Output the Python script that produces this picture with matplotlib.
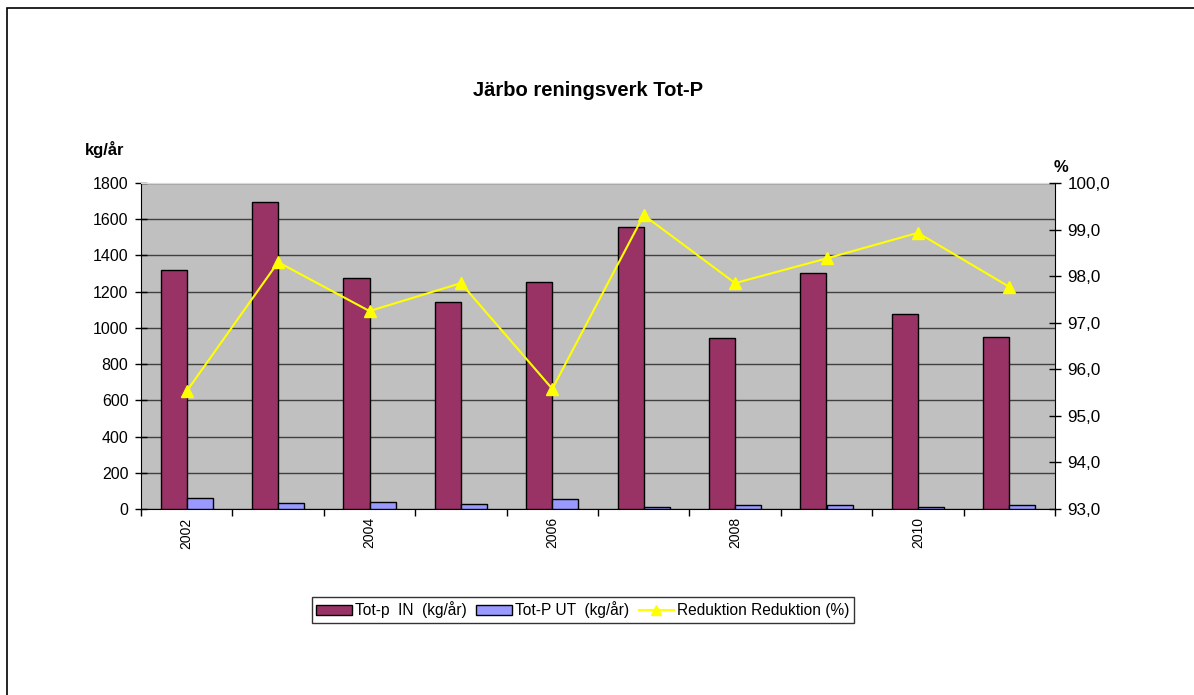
import numpy as np
import matplotlib
matplotlib.use('Agg')
import matplotlib.pyplot as plt
from matplotlib.lines import Line2D
from matplotlib.patches import Patch, Rectangle
from matplotlib.ticker import FuncFormatter

plt.rcParams['font.family'] = ['Liberation Sans', 'DejaVu Sans']

# data
years = [2002, 2003, 2004, 2005, 2006, 2007, 2008, 2009, 2010, 2011]
tot_p_in = [1320, 1696, 1276, 1142, 1254, 1558, 945, 1302, 1079, 948]
tot_p_ut = [62, 31, 38, 25, 57, 10, 21, 21, 9, 21]
reduktion = [95.53, 98.30, 97.25, 97.85, 95.58, 99.31, 97.85, 98.38, 98.93, 97.77]

W, H = 1194, 695
fig = plt.figure(figsize=(W / 100, H / 100), dpi=100)
ax = fig.add_axes([141 / W, 1 - 509 / H, (1055 - 141) / W, (509 - 183) / H])

# outer chart frame (only top and left visible in the reference)
fig.patches.append(Rectangle((7 / W, -0.05), 1.2, 1 - 8 / H + 0.05, transform=fig.transFigure,
                             fill=False, edgecolor='black', linewidth=1.2))

x = np.arange(len(years))
bw = 0.2857
ax.set_facecolor('#C0C0C0')
ax.bar(x - bw, tot_p_in, width=bw, align='edge', color='#993366', edgecolor='black', linewidth=1, zorder=3)
ax.bar(x, tot_p_ut, width=bw, align='edge', color='#9999FF', edgecolor='black', linewidth=1, zorder=3)

ax.set_xlim(-0.5, len(years) - 0.5)
ax.set_ylim(0, 1800)
ax.set_yticks(range(0, 1801, 200))
ax.yaxis.grid(True, color='#404040', linewidth=1)
ax.set_axisbelow(True)
ax.tick_params(axis='y', direction='inout', length=8, width=1, labelsize=11.5, pad=5)

ax.set_xticks(np.arange(-0.5, len(years), 1.0))
ax.set_xticklabels([])
ax.tick_params(axis='x', which='major', direction='out', length=5, width=1)
ax.set_xticks(x[::2], minor=True)
ax.set_xticklabels([str(y) for y in years[::2]], minor=True, rotation=90, fontsize=10)
ax.tick_params(axis='x', which='minor', length=0, pad=6)

for s in ['left', 'bottom']:
    ax.spines[s].set_color('black')
ax.spines['top'].set_color('#d9d9d9')
ax.spines['right'].set_visible(False)

ax2 = ax.twinx()
ax2.plot(x, reduktion, color='#FFFF00', linewidth=1.5, marker='^', markersize=8, zorder=4)
ax2.set_ylim(93, 100)
ax2.set_yticks(range(93, 101))
ax2.yaxis.set_major_formatter(FuncFormatter(lambda v, p: f'{v:.1f}'.replace('.', ',')))
ax2.tick_params(axis='y', direction='inout', length=8, width=1, labelsize=12.3, pad=5)
ax2.spines['right'].set_color('black')
ax2.spines['top'].set_visible(False)
ax2.spines['left'].set_visible(False)
ax2.spines['bottom'].set_visible(False)

fig.text(588 / W, 1 - 90 / H, 'Järbo reningsverk Tot-P', ha='center', va='center',
         fontsize=14.5, fontweight='bold')
fig.text(85 / W, 1 - 150 / H, 'kg/år', ha='left', va='center', fontsize=12, fontweight='bold')
fig.text(1061 / W, 1 - 167 / H, '%', ha='center', va='center', fontsize=12, fontweight='bold')

handles = [Patch(facecolor='#993366', edgecolor='black', label='Tot-p  IN  (kg/år)'),
           Patch(facecolor='#9999FF', edgecolor='black', label='Tot-P UT  (kg/år)'),
           Line2D([], [], color='#FFFF00', marker='^', markersize=7, linewidth=1.5,
                  label='Reduktion Reduktion (%)')]
leg = fig.legend(handles=handles, loc='center', bbox_to_anchor=(583 / W, 1 - 610 / H), ncol=3,
                 fontsize=11.2, frameon=True, fancybox=False, edgecolor='black',
                 handlelength=2.3, handletextpad=0.2, columnspacing=0.6, borderpad=0.3,
                 borderaxespad=0)
leg.get_frame().set_linewidth(1)

fig.savefig('out.png', dpi=100)
